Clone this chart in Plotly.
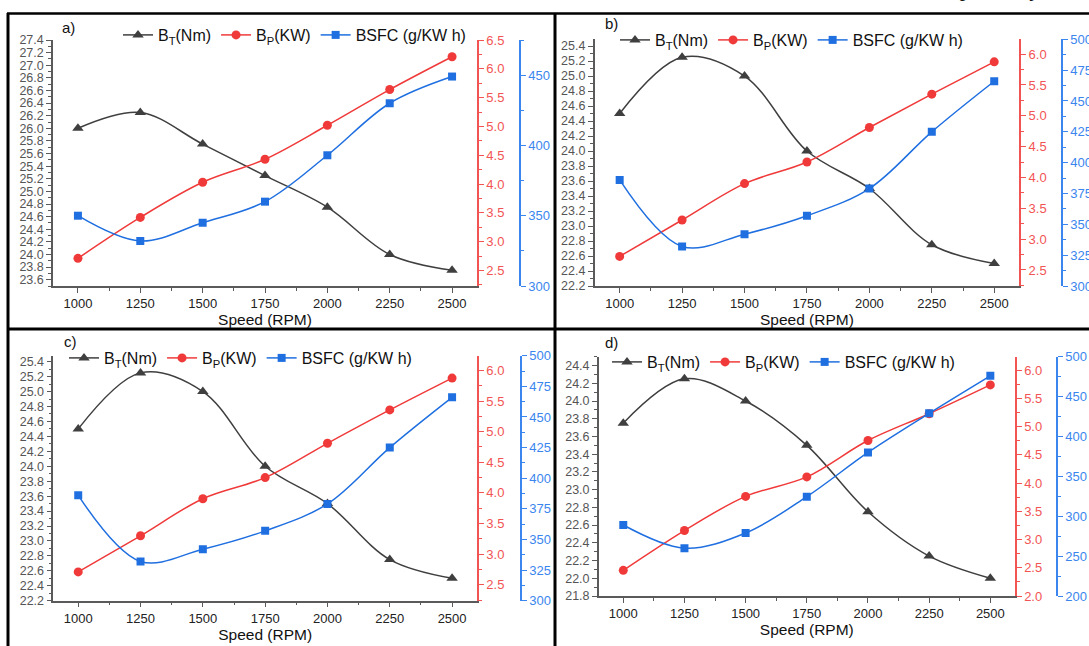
import plotly.graph_objects as go

W, H = 1089, 646
FONT = "Liberation Sans, Arial, sans-serif"

speed = [1000, 1250, 1500, 1750, 2000, 2250, 2500]

# Panel a
bt_a = [26.0, 26.25, 25.75, 25.25, 24.75, 24.0, 23.75]
bp_a = [2.71, 3.42, 4.03, 4.43, 5.02, 5.64, 6.21]
bsfc_a = [350, 332, 345, 360, 393, 430, 449]
# Panel b
bt_b = [24.5, 25.25, 25.0, 24.0, 23.5, 22.75, 22.5]
bp_b = [2.72, 3.31, 3.90, 4.25, 4.81, 5.35, 5.875]
bsfc_b = [386, 332, 342, 357, 379, 425, 466]
# Panel c
bt_c = [24.5, 25.25, 25.0, 24.0, 23.5, 22.75, 22.5]
bp_c = [2.71, 3.30, 3.905, 4.25, 4.81, 5.355, 5.875]
bsfc_c = [386, 332, 342, 357, 379, 425, 466]
# Panel d
bt_d = [23.75, 24.25, 24.0, 23.5, 22.75, 22.25, 22.0]
bp_d = [2.455, 3.16, 3.765, 4.11, 4.755, 5.23, 5.74]
bsfc_d = [289, 260, 279, 324.5, 380, 429, 476]

panel_labels = ["a)", "b)", "c)", "d)"]
legend_names = ["B<sub>T</sub>(Nm)", "B<sub>P</sub>(KW)", "BSFC (g/KW h)"]
x_title = "Speed (RPM)"
caption_tail = "respectively"

GREY = "#3f3f3f"
GREY_AX = "#5a5a5a"
RED = "#f03a3a"
RED_AX = "#f25454"
BLUE = "#1f6fe0"
BLUE_AX = "#3a86ee"


def fx(px):
    return px / W


def fy(py):
    return 1 - py / H


panels = [
    dict(data=(bt_a, bp_a, bsfc_a), xd=(53, 477), yd=(286, 40), blue_x=520,
         lrange=[23.5, 27.4], rrange=[2.23, 6.5], brange=[300, 475], bdt=50,
         leg=(118, 35), lab=(60, 27)),
    dict(data=(bt_b, bp_b, bsfc_b), xd=(594.7, 1019.2), yd=(286, 39.3), blue_x=1062,
         lrange=[22.2, 25.49], rrange=[2.24, 6.24], brange=[300, 500], bdt=25,
         leg=(615, 40), lab=(603, 24)),
    dict(data=(bt_c, bp_c, bsfc_c), xd=(53.3, 477), yd=(600.7, 355.7), blue_x=521,
         lrange=[22.2, 25.48], rrange=[2.24, 6.24], brange=[300, 500], bdt=25,
         leg=(64, 358), lab=(62, 341)),
    dict(data=(bt_d, bp_d, bsfc_d), xd=(598.8, 1014.8), yd=(596, 356.7), blue_x=1057,
         lrange=[21.8, 24.5], rrange=[2.0, 6.24], brange=[200, 500], bdt=50,
         leg=(607, 362), lab=(603, 342)),
]

fig = go.Figure()
layout = {}
annotations = []

for i, p in enumerate(panels):
    xn = "" if i == 0 else str(i + 1)
    yl = 3 * i + 1
    yr = 3 * i + 2
    yb = 3 * i + 3
    ynames = ["" if yl == 1 else str(yl), str(yr), str(yb)]
    legname = "legend" if i == 0 else f"legend{i + 1}"
    bt, bp, bsfc = p["data"]
    series = [
        (bt, GREY, "triangle-up", 10, ynames[0]),
        (bp, RED, "circle", 9, ynames[1]),
        (bsfc, BLUE, "square", 8, ynames[2]),
    ]
    for (vals, col, sym, ms, yn), name in zip(series, legend_names):
        fig.add_trace(go.Scatter(
            x=speed, y=vals, name=name, mode="lines+markers",
            line=dict(color=col, width=1.5, shape="spline", smoothing=1.0),
            marker=dict(color=col, symbol=sym, size=ms),
            xaxis="x" + xn, yaxis="y" + yn, legend=legname,
        ))

    x0, x1 = p["xd"]
    yb_px, yt_px = p["yd"]
    xdom = [fx(x0), fx(x1)]
    ydom = [fy(yb_px), fy(yt_px)]

    layout["xaxis" + xn] = dict(
        domain=xdom, range=[900, 2600], anchor="y" + ynames[0],
        tickvals=speed, ticks="outside", ticklen=5, tickwidth=1.2,
        tickcolor=GREY_AX, showline=True, linecolor=GREY_AX, linewidth=1.5,
        showgrid=False, zeroline=False,
        minor=dict(tickvals=[1125, 1375, 1625, 1875, 2125, 2375], ticks="outside",
                   ticklen=3, tickcolor=GREY_AX, showgrid=False),
        tickfont=dict(family=FONT, size=13, color="#222222"),
        title=dict(text=x_title, font=dict(family=FONT, size=15.5, color="#111111"),
                   standoff=4),
    )
    layout["yaxis" + ynames[0]] = dict(
        domain=ydom, range=p["lrange"], anchor="x" + xn, side="left",
        dtick=0.2, tick0=0, tickformat=".1f", ticks="outside", ticklen=5,
        tickwidth=1.2, tickcolor=GREY_AX, showline=True, linecolor=GREY_AX,
        linewidth=1.5, showgrid=False, zeroline=False,
        minor=dict(dtick=0.1, ticks="outside", ticklen=3, tickcolor=GREY_AX,
                   showgrid=False),
        tickfont=dict(family=FONT, size=12.5, color="#555555"),
    )
    layout["yaxis" + ynames[1]] = dict(
        domain=ydom, range=p["rrange"], anchor="x" + xn, overlaying="y" + ynames[0],
        side="right", dtick=0.5, tick0=0, tickformat=".1f", ticks="outside",
        ticklen=5, tickwidth=1.2, tickcolor=RED_AX, showline=True,
        linecolor=RED_AX, linewidth=1.5, showgrid=False, zeroline=False,
        minor=dict(dtick=0.25, ticks="outside", ticklen=3, tickcolor=RED_AX,
                   showgrid=False),
        tickfont=dict(family=FONT, size=13, color=RED_AX),
    )
    layout["yaxis" + ynames[2]] = dict(
        domain=ydom, range=p["brange"], anchor="free", position=fx(p["blue_x"]),
        overlaying="y" + ynames[0], side="right", dtick=p["bdt"], tick0=0,
        ticks="outside", ticklen=5, tickwidth=1.2, tickcolor=BLUE_AX,
        showline=True, linecolor=BLUE_AX, linewidth=1.5, showgrid=False,
        zeroline=False,
        minor=dict(dtick=p["bdt"] / 2, ticks="outside", ticklen=3,
                   tickcolor=BLUE_AX, showgrid=False),
        tickfont=dict(family=FONT, size=13, color=BLUE_AX),
    )
    lx, ly = p["leg"]
    layout[legname] = dict(
        orientation="h", x=fx(lx), y=fy(ly), xanchor="left", yanchor="middle",
        bgcolor="rgba(0,0,0,0)", borderwidth=0,
        font=dict(family=FONT, size=16, color="#111111"),
        itemwidth=30, tracegroupgap=0,
    )
    annotations.append(dict(
        text=panel_labels[i], x=fx(p["lab"][0]), y=fy(p["lab"][1]),
        xref="paper", yref="paper", xanchor="left", yanchor="middle",
        showarrow=False, font=dict(family=FONT, size=15, color="#111111"),
    ))

# Caption text cut off at the top of the image (only descenders visible)
annotations.append(dict(
    text=caption_tail, x=fx(932), y=fy(3), xref="paper", yref="paper",
    xanchor="left", yanchor="bottom", showarrow=False,
    font=dict(family="Liberation Serif, Times New Roman, serif", size=22,
              color="#111111"),
))

shapes = [
    dict(type="line", xref="paper", yref="paper", x0=fx(8), x1=fx(8),
         y0=fy(13), y1=fy(660), line=dict(color="black", width=3)),
    dict(type="line", xref="paper", yref="paper", x0=fx(7), x1=fx(1100),
         y0=fy(13.5), y1=fy(13.5), line=dict(color="black", width=2.5)),
    dict(type="line", xref="paper", yref="paper", x0=fx(555), x1=fx(555),
         y0=fy(13), y1=fy(660), line=dict(color="black", width=3)),
    dict(type="line", xref="paper", yref="paper", x0=fx(7), x1=fx(1100),
         y0=fy(329), y1=fy(329), line=dict(color="black", width=3)),
]

fig.update_layout(
    width=W, height=H,
    margin=dict(l=0, r=0, t=0, b=0, pad=0, autoexpand=False),
    paper_bgcolor="white", plot_bgcolor="white",
    annotations=annotations, shapes=shapes, showlegend=True,
    **layout,
)

fig.write_html("out.html")
